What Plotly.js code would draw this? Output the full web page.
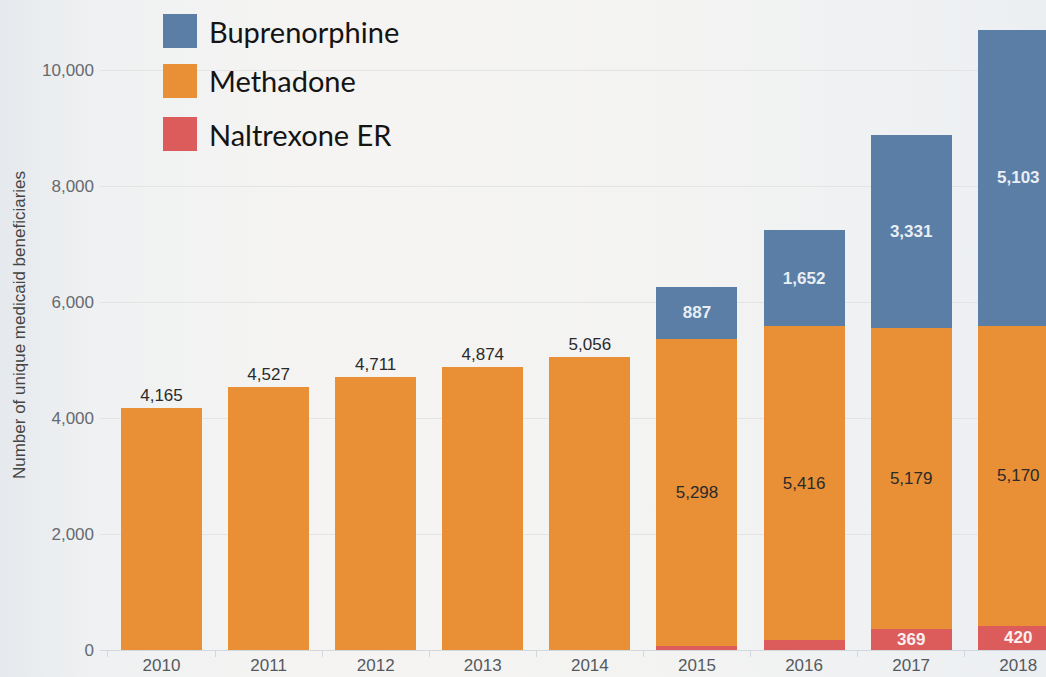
<!DOCTYPE html>
<html>
<head>
<meta charset="utf-8">
<script src="https://cdn.plot.ly/plotly-3.0.1.min.js"></script>
<style>
  html, body { margin: 0; padding: 0; }
  body {
    width: 1046px; height: 677px; overflow: hidden;
    background: linear-gradient(to right, #e6e9ed 0%, #eff1f2 9%, #f5f4f2 30%, #f3f3f2 65%, #eceff2 100%);
  }
  #chart { width: 1046px; height: 677px; }
</style>
</head>
<body>
<div id="chart"></div>
<script>
// ---- Data ----
const years = ['2010', '2011', '2012', '2013', '2014', '2015', '2016', '2017', '2018'];
const naltrexoneER = [null, null, null, null, null, 70, 170, 369, 420];
const methadone = [4165, 4527, 4711, 4874, 5056, 5298, 5416, 5179, 5170];
const buprenorphine = [null, null, null, null, null, 887, 1652, 3331, 5103];
const seriesNames = ['Buprenorphine', 'Methadone', 'Naltrexone ER'];

// ---- Styling ----
const colors = { bup: '#5a7ea6', meth: '#e98f35', nal: '#dc5c5c' };
const fmt = v => (v == null ? '' : v.toLocaleString('en-US'));
const baseFont = 'Liberation Sans, Arial, sans-serif';

const W = 1046, H = 677;
const M = { l: 100, r: 0, t: 0, b: 27 };
const plotW = W - M.l - M.r, plotH = H - M.t - M.b;
const px2x = p => (p - M.l) / plotW;
const px2y = p => (plotH + M.t - p) / plotH;

// methadone label outside when it is the top of the stack
const methPos = methadone.map((v, i) => buprenorphine[i] == null ? 'outside' : 'inside');

const traces = [
  {
    type: 'bar', name: seriesNames[2], x: years, y: naltrexoneER,
    marker: { color: colors.nal, line: { width: 0 } },
    text: naltrexoneER.map(v => (v != null && v >= 300 ? fmt(v) : '')),
    textposition: 'inside', insidetextanchor: 'middle', constraintext: 'none',
    textfont: { family: baseFont, size: 17, color: '#fbefef', weight: 'bold' },
    hoverinfo: 'x+y+name'
  },
  {
    type: 'bar', name: seriesNames[1], x: years, y: methadone,
    marker: { color: colors.meth, line: { width: 0 } },
    text: methadone.map(fmt),
    textposition: methPos, insidetextanchor: 'middle', constraintext: 'none',
    textfont: { family: baseFont, size: 17, color: '#2a2a2a' },
    cliponaxis: false,
    hoverinfo: 'x+y+name'
  },
  {
    type: 'bar', name: seriesNames[0], x: years, y: buprenorphine,
    marker: { color: colors.bup, line: { width: 0 } },
    text: buprenorphine.map(fmt),
    textposition: 'inside', insidetextanchor: 'middle', constraintext: 'none',
    textfont: { family: baseFont, size: 17, color: '#e9eef4', weight: 'bold' },
    hoverinfo: 'x+y+name'
  }
];

// Manual legend (large squares)
const legendItems = [
  { name: seriesNames[0], color: colors.bup, top: 14 },
  { name: seriesNames[1], color: colors.meth, top: 64 },
  { name: seriesNames[2], color: colors.nal, top: 117 }
];
const sq = 34;
const shapes = legendItems.map(it => ({
  type: 'rect', xref: 'paper', yref: 'paper', layer: 'above',
  x0: px2x(163), x1: px2x(163 + sq), y0: px2y(it.top + sq), y1: px2y(it.top),
  fillcolor: it.color, line: { width: 0 }
}));
const annotations = legendItems.map(it => ({
  xref: 'paper', yref: 'paper', x: px2x(207), y: px2y(it.top + sq / 2),
  xanchor: 'left', yanchor: 'middle', showarrow: false,
  text: it.name, font: { family: 'Lato, Open Sans, sans-serif', size: 29, color: '#141414' }
}));

const layout = {
  width: W, height: H,
  margin: M,
  paper_bgcolor: 'rgba(0,0,0,0)',
  plot_bgcolor: 'rgba(0,0,0,0)',
  barmode: 'stack',
  bargap: 0.244,
  showlegend: false,
  font: { family: baseFont, color: '#555' },
  xaxis: {
    type: 'category',
    range: [-0.574, 8.259],
    tickson: 'boundaries',
    ticks: 'outside', ticklen: 6, tickcolor: '#d2d8e0', tickwidth: 1,
    showline: true, linecolor: '#d2d8e0', linewidth: 1,
    showgrid: false,
    tickfont: { family: baseFont, size: 17, color: '#555a60' },
    fixedrange: true
  },
  yaxis: {
    range: [0, 11207],
    tickvals: [0, 2000, 4000, 6000, 8000, 10000],
    ticktext: ['0', '2,000', '4,000', '6,000', '8,000', '10,000'],
    showgrid: true, gridcolor: '#e4e4e4', gridwidth: 1,
    zeroline: false,
    ticks: '', ticklabelstandoff: 5,
    tickfont: { family: baseFont, size: 17, color: '#666a70' },
    title: {
      text: 'Number of unique medicaid beneficiaries',
      font: { family: baseFont, size: 17, color: '#444' },
      standoff: 12
    },
    fixedrange: true
  },
  shapes: shapes,
  annotations: annotations
};

Plotly.newPlot('chart', traces, layout, { displayModeBar: false, staticPlot: true });
</script>
</body>
</html>
